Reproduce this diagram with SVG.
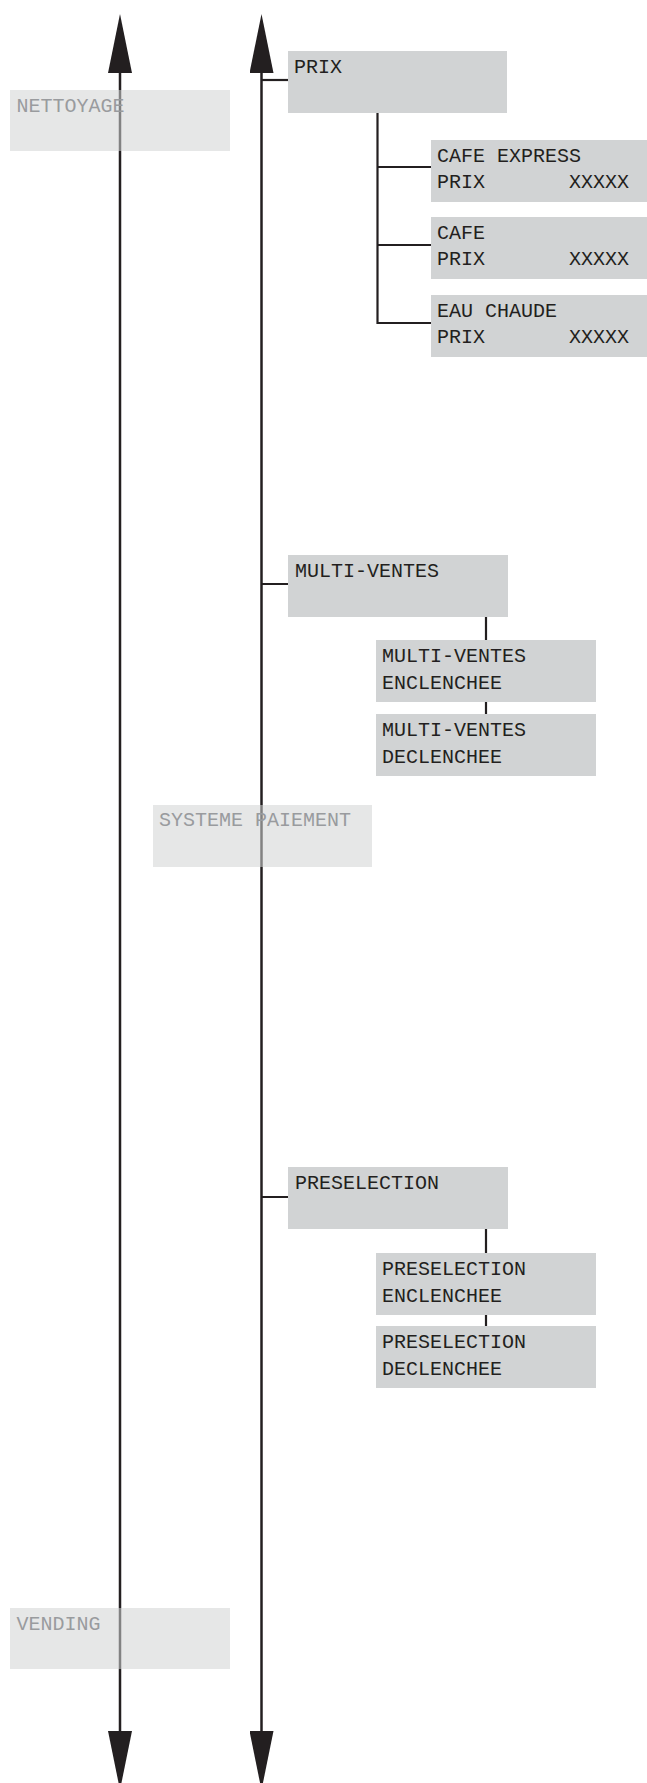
<svg xmlns="http://www.w3.org/2000/svg" width="647" height="1783" viewBox="0 0 647 1783">
<style>
.box{fill:#d1d3d4}
.fade{fill:#d1d3d4;opacity:0.55}
.t{font-family:"Liberation Mono","DejaVu Sans Mono",monospace;font-size:20px;fill:#231f20}
.tf{font-family:"Liberation Mono","DejaVu Sans Mono",monospace;font-size:20px;fill:#999b9e}
.ln{stroke:#231f20;stroke-width:2.2;fill:none}
.ax{stroke:#231f20;stroke-width:2.5;fill:none;marker-start:url(#ah);marker-end:url(#ah)}
</style>
<defs>
<marker id="ah" viewBox="0 0 59 24" refX="0" refY="12" markerWidth="59" markerHeight="24" markerUnits="userSpaceOnUse" orient="auto-start-reverse">
<polygon points="0,0 59,12 0,24" fill="#231f20"/>
</marker>
</defs>
<g id="connectors">
<path class="ax" d="M120 73 V1731"/>
<path class="ax" d="M261.5 73 V1731"/>
<path class="ln" d="M261.5 80 H288"/>
<path class="ln" d="M377.5 113 V324 M377.5 167 H431 M377.5 245 H431 M376.4 323 H431"/>
<path class="ln" d="M261.5 584 H288 M486 617 V640 M486 702 V714"/>
<path class="ln" d="M261.5 1197 H288 M486 1229 V1253 M486 1315 V1326"/>
</g>
<g id="nettoyage">
<rect class="fade" x="10" y="90" width="220" height="61"/>
<text class="tf" x="16.5" y="112">NETTOYAGE</text>
</g>
<g id="prix">
<rect class="box" x="288" y="51" width="219" height="62"/>
<text class="t" x="294" y="73">PRIX</text>
</g>
<g id="cafe-express">
<rect class="box" x="431" y="140" width="216" height="62"/>
<text class="t" x="437" y="162">CAFE EXPRESS</text>
<text class="t" x="437" y="188">PRIX<tspan x="569">XXXXX</tspan></text>
</g>
<g id="cafe">
<rect class="box" x="431" y="217" width="216" height="62"/>
<text class="t" x="437" y="239">CAFE</text>
<text class="t" x="437" y="265">PRIX<tspan x="569">XXXXX</tspan></text>
</g>
<g id="eau-chaude">
<rect class="box" x="431" y="295" width="216" height="62"/>
<text class="t" x="437" y="317">EAU CHAUDE</text>
<text class="t" x="437" y="343">PRIX<tspan x="569">XXXXX</tspan></text>
</g>
<g id="multi-ventes">
<rect class="box" x="288" y="555" width="220" height="62"/>
<text class="t" x="295" y="577">MULTI-VENTES</text>
</g>
<g id="mv-enclenchee">
<rect class="box" x="376" y="640" width="220" height="62"/>
<text class="t" x="382" y="662">MULTI-VENTES</text>
<text class="t" x="382" y="689">ENCLENCHEE</text>
</g>
<g id="mv-declenchee">
<rect class="box" x="376" y="714" width="220" height="62"/>
<text class="t" x="382" y="736">MULTI-VENTES</text>
<text class="t" x="382" y="763">DECLENCHEE</text>
</g>
<g id="systeme-paiement">
<rect class="fade" x="153" y="805" width="219" height="62"/>
<text class="tf" x="159" y="826">SYSTEME PAIEMENT</text>
</g>
<g id="preselection">
<rect class="box" x="288" y="1167" width="220" height="62"/>
<text class="t" x="295" y="1189">PRESELECTION</text>
</g>
<g id="ps-enclenchee">
<rect class="box" x="376" y="1253" width="220" height="62"/>
<text class="t" x="382" y="1275">PRESELECTION</text>
<text class="t" x="382" y="1302">ENCLENCHEE</text>
</g>
<g id="ps-declenchee">
<rect class="box" x="376" y="1326" width="220" height="62"/>
<text class="t" x="382" y="1348">PRESELECTION</text>
<text class="t" x="382" y="1375">DECLENCHEE</text>
</g>
<g id="vending">
<rect class="fade" x="10" y="1608" width="220" height="61"/>
<text class="tf" x="16.5" y="1630">VENDING</text>
</g>
</svg>
